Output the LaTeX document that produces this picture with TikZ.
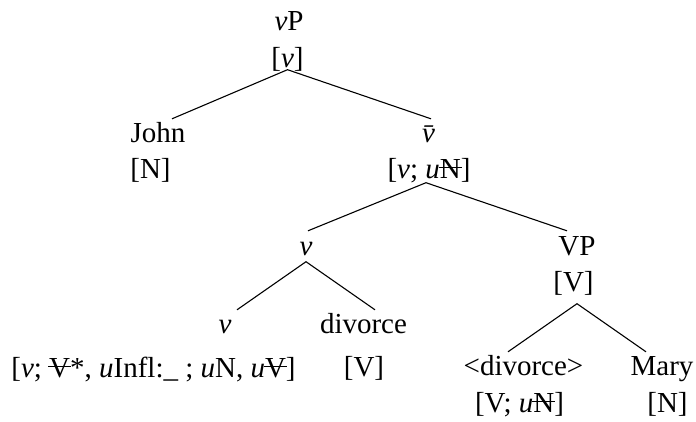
\documentclass[tikz,border=0pt]{standalone}
\usepackage{fontspec}
\setmainfont{Liberation Serif}
\usetikzlibrary{positioning, calc}
\newcommand{\struck}[1]{\sbox0{#1}\rlap{\kern-0.04em\rule[0.33em]{\dimexpr\wd0+0.08em\relax}{0.05em}}\usebox0}
\tikzset{
  lbl/.style={inner sep=0pt, anchor=base, text height=0.7em, text depth=0.25em,
    font=\fontsize{29}{35}\selectfont},
  branch/.style={line width=1.1pt},
}

\begin{document}
\begin{tikzpicture}[x=1pt, y=-1pt]
    \useasboundingbox (0,0) rectangle (696,421);
    % top
    \node[lbl] (vp) at (289,30) {\textit{v}P};
    \node[lbl] (vpF) at (287.5,67) {[\textit{v}]};
    \node[lbl] (john) at (158,142) {John};
    \node[lbl] (johnF) at (150.5,178) {[N]};
    \node[lbl] (vbar) at (432,142) {\textit{\=v}};
    \node[lbl] (vbarF) at (429,178) {[\textit{v}; \textit{u}\struck{N}]};
    % middle
    \node[lbl] (vup) at (306,255) {\textit{v}};
    \node[lbl] (VP) at (577,255) {VP};
    \node[lbl] (VPF) at (573.5,291) {[V]};
    % bottom
    \node[lbl] (vlow) at (225,333) {\textit{v}};
    \node[lbl] (vlowF) at (153.5,377) {[\textit{v}; \struck{V}*, \textit{u}Infl:\_ ; \textit{u}N, \textit{u}\struck{V}]};
    \node[lbl] (div) at (363.5,333) {divorce};
    \node[lbl] (divF) at (364,376) {[V]};
    \node[lbl] (trace) at (523.5,375) {\textless divorce\textgreater};
    \node[lbl] (traceF) at (519.5,412) {[V; \textit{u}\struck{N}]};
    \node[lbl] (mary) at (662,375) {Mary};
    \node[lbl] (maryF) at (667.5,412) {[N]};

    \draw[branch] ([xshift=14pt,yshift=16pt]john.north) -- (vpF.south) -- ([xshift=-1pt,yshift=16pt]vbar.north);
    \draw[branch] ([xshift=2pt,yshift=17pt]vup.north) -- ([xshift=-3pt,yshift=-2pt]vbarF.south) -- ([xshift=-10pt,yshift=17pt]VP.north);
    \draw[branch] ([xshift=12pt,yshift=16pt]vlow.north) -- ([yshift=-4pt]vup.south) -- ([xshift=11.5pt,yshift=16pt]div.north);
    \draw[branch] ([xshift=-15.5pt,yshift=16pt]trace.north) -- ([xshift=3.5pt,yshift=-10pt]VPF.south) -- ([xshift=-16pt,yshift=16pt]mary.north);
  \end{tikzpicture}
\end{document}
